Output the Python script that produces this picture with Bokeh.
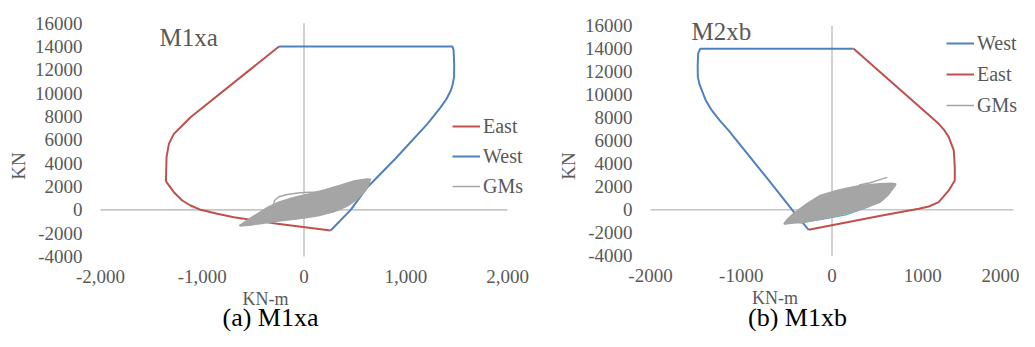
from bokeh.plotting import figure
from bokeh.layouts import row
from bokeh.models import Label, Legend, LegendItem, FixedTicker, Range1d
from bokeh.embed import file_html
from bokeh.resources import INLINE

FONT = "Liberation Serif"
RED = "#C0504D"
BLUE = "#4F81BD"
GRAY = "#A5A5A5"
CYAN = "#4BACC6"
TXT = "#595959"
ZERO = "#C6C6C6"

# ---------------- ticks ----------------
x_ticks = [-2000, -1000, 0, 1000, 2000]
x_labels_a = ["-2,000", "-1,000", "0", "1,000", "2,000"]
x_labels_b = ["-2000", "-1000", "0", "1000", "2000"]
y_ticks = [-4000, -2000, 0, 2000, 4000, 6000, 8000, 10000, 12000, 14000, 16000]
y_labels = ["-4000", "-2000", "0", "2000", "4000", "6000", "8000", "10000", "12000", "14000", "16000"]

# ---------------- panel (a) M1xa ----------------
a_east_x = [-246, -1115, -1213, -1279, -1328, -1351, -1357, -1351, -1279, -1197, -1115, -1016, -852, -689, -262, 262]
a_east_y = [14000, 7943, 7086, 6514, 5657, 4514, 2514, 2371, 1514, 800, 371, 0, -343, -629, -1200, -1771]
a_west_x = [-246, 1459, 1470, 1476, 1475, 1460, 1443, 1400, 1344, 1280, 1213, 900, 623, 459, 262]
a_west_y = [14000, 14000, 13700, 12500, 11400, 10700, 10229, 9500, 8800, 8100, 7371, 4400, 1943, 0, -1771]
a_gm_cloud_x = [-630, -520, -400, -250, -100, 0, 150, 300, 420, 520, 600, 640, 650,
                620, 500, 350, 200, 50, -60, -160, -250, -350, -450, -550, -610]
a_gm_cloud_y = [-1380, -1300, -1150, -950, -800, -700, -480, -150, 300, 900, 1600, 2200, 2550,
                2650, 2500, 2100, 1700, 1350, 1150, 900, 650, 250, -300, -850, -1200]
a_gm_loops_x = [[-300, -290, -250, -180, -80, 0, 120, 250],
                [-640, -560, -420, -300],
                [380, 480, 560, 620, 660]]
a_gm_loops_y = [[450, 800, 1100, 1300, 1430, 1480, 1520, 1650],
                [-1330, -1150, -1000, -900],
                [2000, 2350, 2500, 2600, 2640]]

# ---------------- panel (b) M1xb ----------------
b_west_x = [239, -1452, -1475, -1480, -1478, -1460, -1434, -1390, -1324, -1240, -1140, -700, -404, -257]
b_west_y = [14000, 14000, 13600, 12500, 11536, 10900, 10377, 9500, 8638, 7800, 6900, 2600, -348, -1739]
b_east_x = [239, 1176, 1240, 1287, 1342, 1353, 1353, 1287, 1176, 1066, 956, 551, -257]
b_east_y = [14000, 7478, 6900, 6319, 5159, 3710, 2551, 1681, 667, 290, 87, -493, -1739]
b_gm_cloud_x = [-530, -420, -316, -150, -22, 130, 272, 420, 529, 620, 695, 705,
                660, 529, 309, 150, 52, -132, -279, -427, -500]
b_gm_cloud_y = [-1230, -1150, -1078, -850, -643, -360, -61, 350, 661, 1300, 2113, 2250,
                2300, 2261, 2113, 1850, 1678, 1243, 522, -348, -900]
b_gm_loops_x = [[300, 420, 520, 610],
                [-520, -420, -300]]
b_gm_loops_y = [[2150, 2350, 2600, 2820],
                [-1230, -1000, -700]]
b_gm_edge_x = [-360, -100, 150, 400, 560, 700]
b_gm_edge_y = [-1160, -820, -440, 240, 880, 2150]

H = 331


def make_panel(width, left_px, right_px, top_px, bottom_px, xlabels):
    """left_px/right_px: canvas x of first/last x tick; top_px/bottom_px: canvas y of last/first y tick."""
    xs = (x_ticks[-1] - x_ticks[0]) / (right_px - left_px)
    ys = (y_ticks[-1] - y_ticks[0]) / (bottom_px - top_px)
    xr = Range1d(x_ticks[0] - left_px * xs, x_ticks[-1] + (width - right_px) * xs)
    yr = Range1d(y_ticks[0] - (H - bottom_px) * ys, y_ticks[-1] + top_px * ys)
    p = figure(width=width, height=H, x_range=xr, y_range=yr,
               output_backend="svg", toolbar_location=None,
               min_border_left=0, min_border_right=0, min_border_top=0, min_border_bottom=0)
    p.grid.visible = False
    p.outline_line_color = None
    p.background_fill_color = "white"
    p.border_fill_color = "white"

    p.xaxis.fixed_location = y_ticks[0]
    p.yaxis.fixed_location = x_ticks[0]
    p.xaxis.ticker = FixedTicker(ticks=x_ticks)
    p.xaxis.major_label_overrides = {t: l for t, l in zip(x_ticks, xlabels)}
    p.yaxis.ticker = FixedTicker(ticks=y_ticks)
    p.yaxis.major_label_overrides = {t: l for t, l in zip(y_ticks, y_labels)}
    for ax in (p.xaxis, p.yaxis):
        ax.axis_line_color = None
        ax.major_tick_line_color = None
        ax.minor_tick_line_color = None
        ax.major_tick_out = 0
        ax.major_tick_in = 0
        ax.major_label_text_font = FONT
        ax.major_label_text_font_size = "19px"
        ax.major_label_text_color = TXT
        ax.axis_label_text_font = FONT
        ax.axis_label_text_font_style = "normal"
        ax.axis_label_text_color = TXT
    p.xaxis.axis_label = "KN-m"
    p.xaxis.axis_label_text_font_size = "18px"
    p.xaxis.major_label_standoff = 13
    p.xaxis.axis_label_standoff = 3
    p.yaxis.axis_label = "KN"
    p.yaxis.axis_label_text_font_size = "19px"
    p.yaxis.major_label_standoff = 18
    p.yaxis.axis_label_standoff = 3

    # Excel-style zero axes spanning the tick range
    p.segment(x0=[x_ticks[0]], x1=[x_ticks[-1]], y0=[0], y1=[0], line_color=ZERO, line_width=1.6)
    p.segment(x0=[0], x1=[0], y0=[y_ticks[0]], y1=[y_ticks[-1]], line_color=ZERO, line_width=1.6)
    return p


def legend_for(p, items, loc, spacing):
    lg = Legend(items=[LegendItem(label=n, renderers=[r]) for n, r in items],
                location=loc, orientation="vertical", glyph_width=28, glyph_height=24,
                label_height=24, label_width=10, spacing=spacing, padding=0, margin=0,
                label_standoff=3, border_line_color=None, background_fill_alpha=0,
                label_text_font=FONT, label_text_font_size="20px", label_text_color=TXT)
    p.add_layout(lg)


def text_label(p, x, y, s, size, color, align="left"):
    p.add_layout(Label(x=x, y=y, x_units="screen", y_units="screen", text=s,
                       text_font=FONT, text_font_size=size, text_color=color,
                       text_align=align, text_baseline="alphabetic"))


W1 = 530
W2 = 489

# ---- panel a ----
pa = make_panel(W1, 100, 507, 22.7, 256, x_labels_a)
ra_e = pa.line(a_east_x, a_east_y, line_color=RED, line_width=2)
ra_w = pa.line(a_west_x, a_west_y, line_color=BLUE, line_width=2)
pa.patch(a_gm_cloud_x, a_gm_cloud_y, fill_color=GRAY, line_color=GRAY, line_width=1.5)
ra_g = pa.multi_line(a_gm_loops_x, a_gm_loops_y, line_color=GRAY, line_width=1.5)
legend_for(pa, [("East", ra_e), ("West", ra_w), ("GMs", ra_g)], (452, 133), 6)
text_label(pa, 159, H - 37, "M1xa", "25px", TXT)
text_label(pa, 270, 14, "(a) M1xa", "26px", "black", "center")

# ---- panel b ----
pb = make_panel(W2, 120, 483, 25.3, 255.3, x_labels_b)
rb_w = pb.line(b_west_x, b_west_y, line_color=BLUE, line_width=2)
rb_e = pb.line(b_east_x, b_east_y, line_color=RED, line_width=2)
pb.line(b_gm_edge_x, b_gm_edge_y, line_color=CYAN, line_width=1.2)
pb.patch(b_gm_cloud_x, b_gm_cloud_y, fill_color=GRAY, line_color=GRAY, line_width=1.5)
rb_g = pb.multi_line(b_gm_loops_x, b_gm_loops_y, line_color=GRAY, line_width=1.5)
legend_for(pb, [("West", rb_w), ("East", rb_e), ("GMs", rb_g)], (416, 214), 7)
text_label(pb, 161, H - 31.3, "M2xb", "25px", TXT)
text_label(pb, 267, 14, "(b) M1xb", "26px", "black", "center")

layout = row(pa, pb)
open("out.html", "w").write(file_html(layout, INLINE))
